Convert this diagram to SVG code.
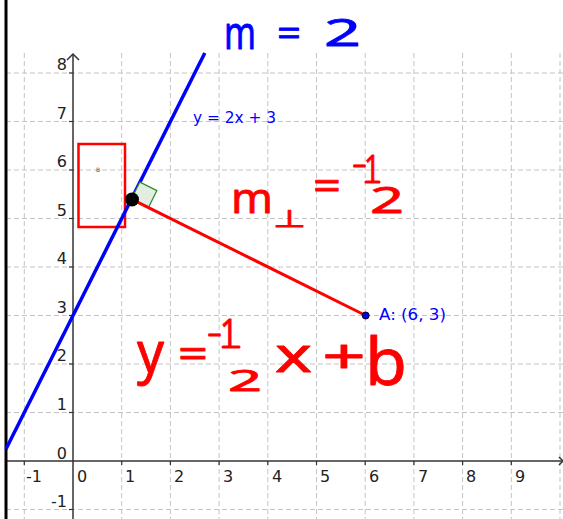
<svg xmlns="http://www.w3.org/2000/svg" width="563" height="519" viewBox="0 0 563 519">
<style>
.grid line{stroke:#c4c4c4;stroke-width:1;stroke-dasharray:5,3}
.ax{stroke:#333;stroke-width:1.5;fill:none}
.tk line{stroke:#333;stroke-width:1.2}
.num{font-family:"DejaVu Sans",sans-serif;font-size:16px;fill:#222}
.hb{font-family:"Noto Sans",sans-serif;fill:#0000ff;stroke:#0000ff;stroke-width:0.8;stroke-linejoin:round}
.hr{font-family:"Noto Sans",sans-serif;fill:#ff0000;stroke:#ff0000;stroke-width:0.8;stroke-linejoin:round}
.lbl{font-family:"DejaVu Sans",sans-serif;fill:#0000ff}
</style>
<rect width="563" height="519" fill="#fff"/>
<g id="grid" class="grid">
<line x1="24.3" y1="53" x2="24.3" y2="519"/>
<line x1="121.7" y1="53" x2="121.7" y2="519"/>
<line x1="170.4" y1="53" x2="170.4" y2="519"/>
<line x1="219.1" y1="53" x2="219.1" y2="519"/>
<line x1="267.8" y1="53" x2="267.8" y2="519"/>
<line x1="316.5" y1="53" x2="316.5" y2="519"/>
<line x1="365.2" y1="53" x2="365.2" y2="519"/>
<line x1="413.9" y1="53" x2="413.9" y2="519"/>
<line x1="462.6" y1="53" x2="462.6" y2="519"/>
<line x1="511.3" y1="53" x2="511.3" y2="519"/>
<line x1="560" y1="53" x2="560" y2="519"/>
<line x1="6" y1="509.5" x2="563" y2="509.5"/>
<line x1="6" y1="412.5" x2="563" y2="412.5"/>
<line x1="6" y1="364" x2="563" y2="364"/>
<line x1="6" y1="315.5" x2="563" y2="315.5"/>
<line x1="6" y1="267" x2="563" y2="267"/>
<line x1="6" y1="218.5" x2="563" y2="218.5"/>
<line x1="6" y1="170" x2="563" y2="170"/>
<line x1="6" y1="121.5" x2="563" y2="121.5"/>
<line x1="6" y1="73" x2="563" y2="73"/>
</g>
<g id="axes">
<line class="ax" x1="6" y1="461" x2="563" y2="461"/>
<polyline class="ax" points="559,457 563,461 559,465"/>
<line class="ax" x1="73" y1="519" x2="73" y2="54"/>
<polyline class="ax" points="67,60 73,54 79,60"/>
<g class="tk">
<line x1="24.3" y1="461" x2="24.3" y2="465"/>
<line x1="121.7" y1="461" x2="121.7" y2="465"/>
<line x1="170.4" y1="461" x2="170.4" y2="465"/>
<line x1="219.1" y1="461" x2="219.1" y2="465"/>
<line x1="267.8" y1="461" x2="267.8" y2="465"/>
<line x1="316.5" y1="461" x2="316.5" y2="465"/>
<line x1="365.2" y1="461" x2="365.2" y2="465"/>
<line x1="413.9" y1="461" x2="413.9" y2="465"/>
<line x1="462.6" y1="461" x2="462.6" y2="465"/>
<line x1="511.3" y1="461" x2="511.3" y2="465"/>
<line x1="69" y1="509.5" x2="73" y2="509.5"/>
<line x1="69" y1="412.5" x2="73" y2="412.5"/>
<line x1="69" y1="364" x2="73" y2="364"/>
<line x1="69" y1="315.5" x2="73" y2="315.5"/>
<line x1="69" y1="267" x2="73" y2="267"/>
<line x1="69" y1="218.5" x2="73" y2="218.5"/>
<line x1="69" y1="170" x2="73" y2="170"/>
<line x1="69" y1="121.5" x2="73" y2="121.5"/>
<line x1="69" y1="73" x2="73" y2="73"/>
</g>
<g class="num">
<text x="26" y="482">-1</text>
<text x="77" y="482">0</text>
<text x="125" y="482">1</text>
<text x="174" y="482">2</text>
<text x="223" y="482">3</text>
<text x="272" y="482">4</text>
<text x="320" y="482">5</text>
<text x="369" y="482">6</text>
<text x="418" y="482">7</text>
<text x="466" y="482">8</text>
<text x="515" y="482">9</text>
</g>
<g class="num" text-anchor="end">
<text x="67" y="507">-1</text>
<text x="67" y="459">0</text>
<text x="67" y="409.5">1</text>
<text x="67" y="361">2</text>
<text x="67" y="312.5">3</text>
<text x="67" y="264">4</text>
<text x="67" y="215.5">5</text>
<text x="67" y="167">6</text>
<text x="67" y="118.5">7</text>
<text x="67" y="70">8</text>
</g>
</g>
<line id="border" x1="6" y1="0" x2="6" y2="519" stroke="#000" stroke-width="3"/>
<g id="rect-b">
<rect x="78.5" y="144" width="46.5" height="83" fill="none" stroke="#ff0000" stroke-width="2.5"/>
<text x="96" y="172" font-family="DejaVu Sans,sans-serif" font-size="6" fill="#555">B</text>
</g>
<g id="line-f">
<line x1="6" y1="449" x2="204.8" y2="53" stroke="#0000ff" stroke-width="3.5"/>
<text class="lbl" x="193" y="123" font-size="15.5" textLength="83" lengthAdjust="spacingAndGlyphs">y = 2x + 3</text>
</g>
<g id="connectors">
<polygon points="131.4,199.1 139.9,182.1 156.9,190.6 148.4,207.6" fill="#e2eee2" stroke="#2e8b2e" stroke-width="1.2"/>
<line x1="131.4" y1="199.1" x2="365.7" y2="315.5" stroke="#ff0000" stroke-width="3"/>
</g>
<g id="foot">
<circle cx="132" cy="199.5" r="7" fill="#000"/>
</g>
<g id="point-a">
<circle cx="365.7" cy="315.5" r="3.5" fill="#0000ff" stroke="#000033" stroke-width="1"/>
<text class="lbl" x="379" y="319.5" font-size="16" textLength="67" lengthAdjust="spacingAndGlyphs">A: (6, 3)</text>
</g>
<g id="note-m">
<text class="hb" x="224" y="49" font-size="46" textLength="32" lengthAdjust="spacingAndGlyphs">m</text>
<text class="hb" x="277" y="46" font-size="36" textLength="24" lengthAdjust="spacingAndGlyphs">=</text>
<text class="hb" x="324" y="46" font-size="39" textLength="37" lengthAdjust="spacingAndGlyphs">2</text>
</g>
<g id="note-mperp">
<text class="hr" x="231" y="213" font-size="42" textLength="42" lengthAdjust="spacingAndGlyphs">m</text>
<text x="273" y="227" font-family="DejaVu Sans,sans-serif" font-size="24" fill="#ff0000" stroke="#ff0000" stroke-width="0.8" textLength="33" lengthAdjust="spacingAndGlyphs">⊥</text>
<text class="hr" x="313" y="200" font-size="40" textLength="28" lengthAdjust="spacingAndGlyphs">=</text>
<text class="hr" x="352" y="173" font-size="28" textLength="15" lengthAdjust="spacingAndGlyphs">-</text>
<text class="hr" x="364" y="181" font-size="36" textLength="16" lengthAdjust="spacingAndGlyphs">1</text>
<line x1="366" y1="182" x2="379" y2="182" stroke="#ff0000" stroke-width="3" stroke-linecap="round"/>
<text class="hr" x="370" y="213" font-size="36" textLength="34" lengthAdjust="spacingAndGlyphs">2</text>
</g>
<g id="note-eq">
<text class="hr" x="137" y="372" font-size="56" textLength="27" lengthAdjust="spacingAndGlyphs">y</text>
<text class="hr" x="178" y="367" font-size="38" textLength="30" lengthAdjust="spacingAndGlyphs">=</text>
<text class="hr" x="207" y="342" font-size="28" textLength="15" lengthAdjust="spacingAndGlyphs">-</text>
<text class="hr" x="220" y="346" font-size="38" textLength="18" lengthAdjust="spacingAndGlyphs">1</text>
<line x1="223" y1="347" x2="239" y2="347" stroke="#ff0000" stroke-width="3" stroke-linecap="round"/>
<text class="hr" x="228" y="391" font-size="29" textLength="34" lengthAdjust="spacingAndGlyphs">2</text>
<text class="hr" x="275" y="372" font-size="48" textLength="37" lengthAdjust="spacingAndGlyphs">x</text>
<text class="hr" x="322" y="373" font-size="48" textLength="44" lengthAdjust="spacingAndGlyphs">+</text>
<text class="hr" x="365" y="385" font-size="66" textLength="42" lengthAdjust="spacingAndGlyphs">b</text>
</g>
</svg>
